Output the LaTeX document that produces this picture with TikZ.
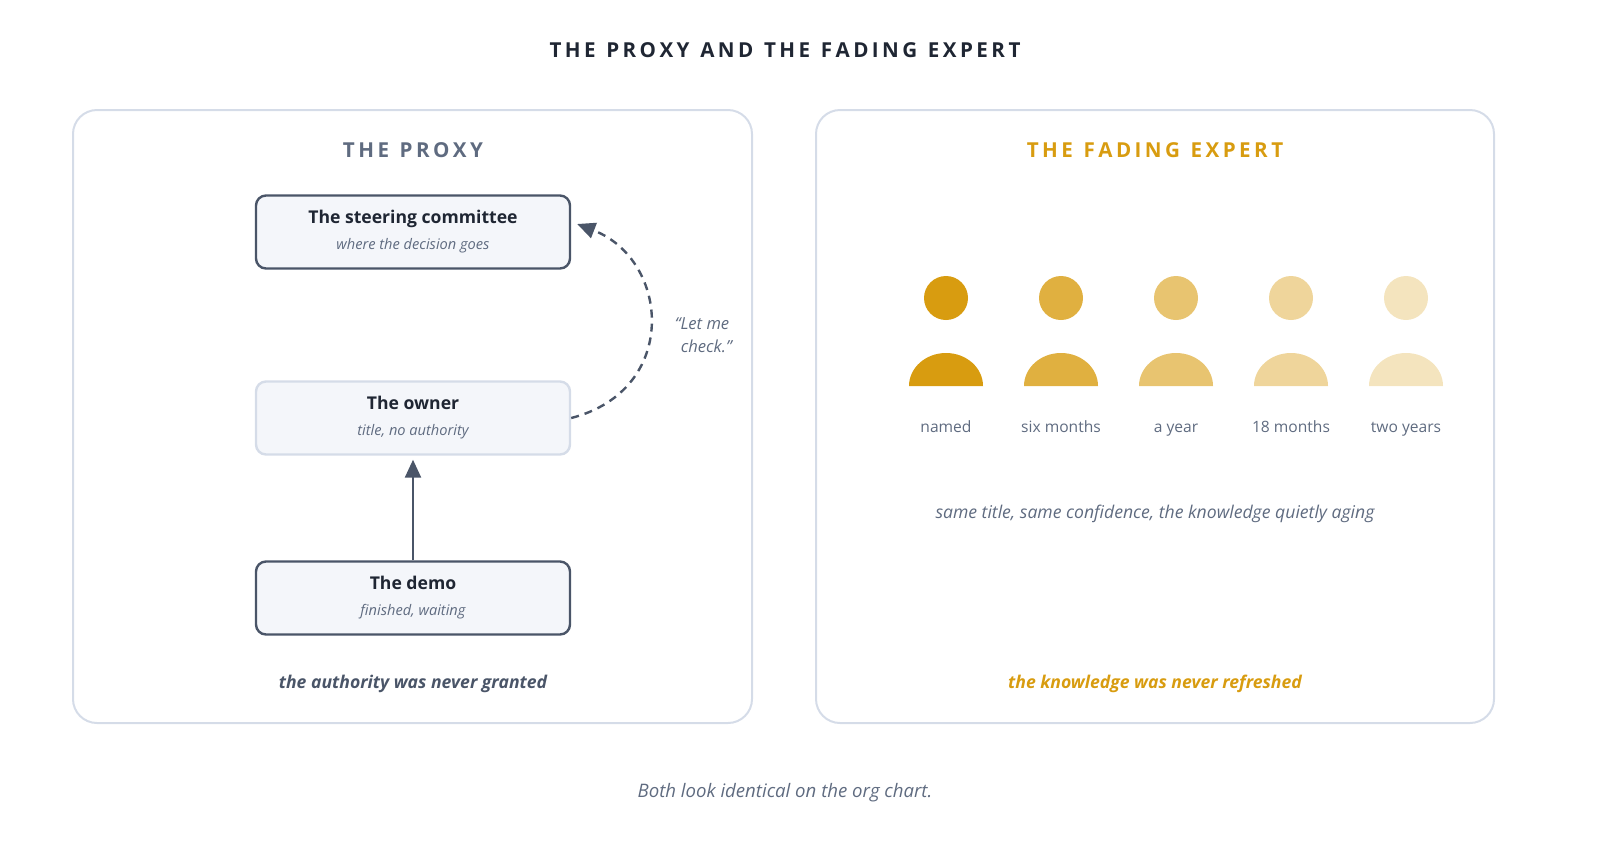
\documentclass[tikz,border=0pt]{standalone}
\usepackage{fontspec}
\setmainfont{Open Sans}
\usetikzlibrary{positioning,arrows.meta}
\definecolor{ink}{HTML}{1F2633}
\definecolor{slate}{HTML}{4A5568}
\definecolor{muted}{HTML}{5F6B80}
\definecolor{frame}{HTML}{D5DCE8}
\definecolor{pale}{HTML}{F4F6FA}
\definecolor{gold}{HTML}{D89C10}
\newcommand\boxhead[1]{{\bfseries\fontsize{8.8}{10}\selectfont #1}}
\newcommand\boxsub[1]{{\itshape\fontsize{7.3}{8.5}\selectfont\color{muted} #1}}
\tikzset{
  >={Triangle[length=9pt,width=8pt]},
  panel/.style={draw=frame, line width=1pt, rounded corners=12pt},
  punkt/.style={
    rectangle,
    rounded corners=5pt,
    fill=pale,
    draw=slate, line width=1.2pt,
    text=ink,
    minimum width=157pt,
    minimum height=36.5pt,
    align=center},
  faint/.style={draw=frame},
  heading/.style={font=\bfseries\fontsize{10.3}{12}\selectfont},
  sub/.style={font=\itshape\fontsize{7}{8.5}\selectfont, text=muted},
  person/.style={fill=gold, draw=none},
  tag/.style={font=\fontsize{7.8}{9}\selectfont, text=muted, anchor=base},
}
\begin{document}
\begin{tikzpicture}[x=0.5pt,y=-0.5pt]
  \node[heading, text=ink] (title) at (785,50) {T\,H\,E\ \ P\,R\,O\,X\,Y\ \ A\,N\,D\ \ T\,H\,E\ \ F\,A\,D\,I\,N\,G\ \ E\,X\,P\,E\,R\,T};

  % left panel
  \draw[panel] (73,110) rectangle (752,723);
  \node[heading, text=muted] (proxy) at (413,150) {T\,H\,E\ \ P\,R\,O\,X\,Y};
  \node[punkt] (steer) at (413,232) {\boxhead{The steering committee}\\[1pt]\boxsub{where the decision goes}};
  \node[punkt, faint] (owner) at (413,418) {\boxhead{The owner}\\[1pt]\boxsub{title, no authority}};
  \node[punkt] (demo) at (413,598) {\boxhead{The demo}\\[1pt]\boxsub{finished, waiting}};
  \draw[->, slate, line width=1.2pt] (demo.north) -- ([yshift=-2pt]owner.south);
  \draw[->, slate, line width=1.2pt, dash pattern=on 4pt off 3pt]
    (owner.east) .. controls (680,390) and (670,260) .. ([xshift=3pt,yshift=4pt]steer.east);
  \node[sub, font=\itshape\fontsize{8.3}{11.5}\selectfont, align=center] (check) at (702,335) {“Let me\\\ \ check.”};
  \node[font=\bfseries\itshape\fontsize{8.8}{10}\selectfont, text=slate] (never1) at (413,684) {the authority was never granted};

  % right panel
  \draw[panel] (816,110) rectangle (1494,723);
  \node[heading, text=gold] (fading) at (1155,150) {T\,H\,E\ \ F\,A\,D\,I\,N\,G\ \ E\,X\,P\,E\,R\,T};
  \foreach \x/\op/\name in {946/1/named, 1061/0.8/six months, 1176/0.6/a year, 1291/0.42/18 months, 1406/0.27/two years}{
    \fill[person, opacity=\op] (\x,298) circle[radius=22];
    \fill[person, opacity=\op] (\x-37,386) arc[start angle=180, end angle=0, x radius=37, y radius=-33] -- cycle;
    \node[tag] at (\x,432) {\name};
  }
  \node[sub, font=\itshape\fontsize{8.8}{10}\selectfont] (aging) at (1155,514) {same title, same confidence, the knowledge quietly aging};
  \node[font=\bfseries\itshape\fontsize{8.8}{10}\selectfont, text=gold] (never2) at (1155,684) {the knowledge was never refreshed};

  \node[sub, font=\itshape\fontsize{9.3}{11}\selectfont] (foot) at (785,793) {Both look identical on the org chart.};

  \pgfresetboundingbox
  \useasboundingbox (0,0) rectangle (1600,853);
\end{tikzpicture}
\end{document}
